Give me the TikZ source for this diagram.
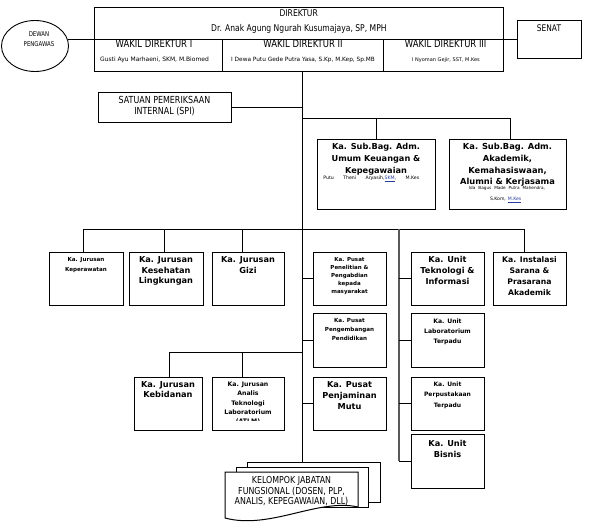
\documentclass[tikz,border=0pt]{standalone}
\usepackage{fontspec}
\setmainfont{DejaVu Sans}
\newfontfamily\tah{DejaVu Sans}[FakeStretch=0.82]
\usetikzlibrary{shapes.geometric,calc}
\definecolor{spell}{RGB}{40,60,160}
\newcommand\fs[2]{\fontsize{#1}{#2}\selectfont}
\newcommand\obox[5]{\node[ob, minimum width={(#4)-(#2)}, minimum height={(#5)-(#3)}] (#1) at ({((#2)+(#4))/2},{((#3)+(#5))/2}) {};}
\begin{document}
\begin{tikzpicture}[x=1pt,y=-1pt,
  ob/.style={draw, line width=1pt, inner sep=0pt, outer sep=0pt, fill=white},
  tx/.style={inner sep=0pt, outer sep=0pt, align=center},
  ln/.style={line width=0.9pt},
  unitln/.style={line width=1.3pt, draw=black!65},
  bigb/.style={tx, anchor=north, font=\bfseries\fs{8.2}{11}},
  ]
\useasboundingbox (0,0) rectangle (614,528);
\fill[white] (0,0) rectangle (614,528);

% ---------- top ----------
\node[draw, ellipse, line width=0.9pt, minimum width=67pt, minimum height=51pt, inner sep=0pt] (dp) at (35,46) {};
\node[tx, anchor=north, font=\tah\fs{6.6}{10}] (dpt) at (39,31.6) {DEWAN\\PENGAWAS};

\obox{dir}{94}{7.3}{503.3}{71}
\coordinate (dv) at (0,39.3);
\coordinate (c1) at (222.7,0);
\coordinate (c2) at (383.3,0);
\draw[ln] (dir.west |- dv) -- (dir.east |- dv);
\draw[ln] (c1 |- dv) -- (c1 |- dir.south);
\draw[ln] (c2 |- dv) -- (c2 |- dir.south);
\node[tx, anchor=base, font=\tah\fs{9.3}{11}] (dirt) at (298.7,16.7) {DIREKTUR};
\node[tx, anchor=base, font=\tah\fs{9.3}{11}] (dirn) at (298.9,31.7) {Dr. Anak Agung Ngurah Kusumajaya, SP, MPH};
\node[tx, anchor=base, font=\tah\fs{10.3}{12}] (w1) at (154,47.8) {WAKIL DIREKTUR I};
\node[tx, anchor=base, font=\tah\fs{10.3}{12}] (w2) at (303,47.8) {WAKIL DIREKTUR II};
\node[tx, anchor=base, font=\tah\fs{10.3}{12}] (w3) at (445.7,47.8) {WAKIL DIREKTUR III};
\node[tx, anchor=base, font=\fs{6}{7}] (w1n) at (154.5,61.2) {Gusti Ayu Marhaeni, SKM, M.Biomed};
\node[tx, anchor=base, font=\fs{5.8}{7}] (w2n) at (303,61.2) {I Dewa Putu Gede Putra Yasa, S.Kp, M.Kep, Sp.MB};
\node[tx, anchor=base, font=\fs{5}{6}] (w3n) at (446,61.2) {I Nyoman Gejir, SST, M.Kes};

\obox{sen}{517}{20.5}{581}{58}
\node[tx, anchor=base, font=\tah\fs{9.1}{11}] (sent) at (549,31.3) {SENAT};

\draw[ln] (dp.12) -- (dp.12 -| dir.west);
\draw[ln] (dir.east |- sen.west) -- (sen.west);

% ---------- SPI and sub bag ----------
\obox{spi}{98}{92}{231}{122}
\node[tx, anchor=north, font=\tah\fs{9.7}{10.7}] (spit) at (164.5,96.4) {SATUAN PEMERIKSAAN\\INTERNAL (SPI)};

\obox{sb1}{317}{139}{435}{209}
\node[tx, anchor=north, font=\bfseries\fs{8.2}{11.65}] (sb1t) at (376,143.6) {Ka. Sub.Bag. Adm.\\Umum Keuangan \&\\Kepegawaian};
\node[tx, anchor=base, font=\fs{4.7}{5}] (sb1n) at (371.3,179.3) {\hbox to 96pt{Putu\hfil Theni\hfil Aryasih,\textcolor{spell}{\underline{SKM}},\hfil M.Kes}};

\obox{sb2}{449}{139}{566}{209}
\node[tx, anchor=north, font=\bfseries\fs{8.3}{11.65}] (sb2t) at (507.5,143.6) {Ka. Sub.Bag. Adm.\\Akademik,\\Kemahasiswaan,\\Alumni \& Kerjasama};
\node[tx, anchor=base, font=\fs{4.2}{5}] (sb2n) at (507,189.9) {\hbox to 76pt{Ida\hfil Bagus\hfil Made\hfil Putra\hfil Mahendra,}};
\node[tx, anchor=base, font=\fs{4.6}{5}] (sb2m) at (505.7,200.6) {S.Kom,\hspace{2pt}\textcolor{spell}{\underline{M.Kes}}};

% ---------- row 1 ----------
\obox{kep}{49}{252}{123}{305}
\node[tx, anchor=north, font=\bfseries\fs{5.6}{10.7}] (kept) at (86,257.2) {Ka. Jurusan\\Keperawatan};
\obox{kes}{129}{252}{203}{305}
\node[bigb, font=\bfseries\fs{8.2}{10.85}] (kest) at (166,256.2) {Ka. Jurusan\\Kesehatan\\Lingkungan};
\obox{gizi}{212}{252}{284}{305}
\node[bigb, font=\bfseries\fs{8.2}{10.85}] (gizit) at (248,256.2) {Ka. Jurusan\\Gizi};
\obox{pen}{313}{252}{386}{305}
\node[tx, anchor=north, font=\bfseries\fs{5.5}{8.1}] (pent) at (349.5,257.2) {Ka. Pusat\\Penelitian \&\\Pengabdian\\kepada\\masyarakat};
\obox{tik}{411}{252}{484}{305}
\node[bigb, font=\bfseries\fs{8.2}{11.2}] (tikt) at (447.5,256.2) {Ka. Unit\\Teknologi \&\\Informasi};
\obox{ins}{493}{252}{566}{305}
\node[tx, anchor=north, font=\bfseries\fs{7.7}{11}] (inst) at (529.5,256.4) {Ka. Instalasi\\Sarana \&\\Prasarana\\Akademik};

% ---------- row 2 ----------
\obox{peng}{313}{313}{386}{367}
\node[tx, anchor=north, font=\bfseries\fs{5.6}{8.6}] (pengt) at (349.5,318.9) {Ka. Pusat\\Pengembangan\\Pendidikan};
\obox{lab}{411}{313}{484}{367}
\node[tx, anchor=north, font=\bfseries\fs{6.1}{10}] (labt) at (447.5,318.7) {Ka. Unit\\Laboratorium\\Terpadu};

% ---------- row 3 ----------
\obox{keb}{134}{377}{202}{430}
\node[bigb, font=\bfseries\fs{8.2}{10.7}] (kebt) at (168,381.2) {Ka. Jurusan\\Kebidanan};
\obox{atlm}{212}{377}{284}{430}
\begin{scope}
\clip (213,378) rectangle (283,420.8);
\node[tx, anchor=north, font=\bfseries\fs{6.2}{9.35}] (atlmt) at (248,381.9) {Ka. Jurusan\\Analis\\Teknologi\\Laboratorium\\(ATLM)};
\end{scope}
\obox{mutu}{313}{377}{386}{430}
\node[bigb, font=\bfseries\fs{8.2}{10.85}] (mutut) at (349.5,381.9) {Ka. Pusat\\Penjaminan\\Mutu};
\obox{perp}{411}{377}{484}{430}
\node[tx, anchor=north, font=\bfseries\fs{6}{10.3}] (perpt) at (447.5,382) {Ka. Unit\\Perpustakaan\\Terpadu};

% ---------- row 4 ----------
\obox{bis}{411}{434}{484}{488}
\node[bigb, font=\bfseries\fs{8.2}{11}] (bist) at (447.5,440.2) {Ka. Unit\\Bisnis};

% ---------- document stack ----------
\obox{docC}{247}{462}{380}{502}
\obox{docB}{236}{467}{368}{507}
\draw[line width=1pt, fill=white] (225,472) -- (358,472) -- (358,507) .. controls (318,498) and (270,530) .. (225,518) -- cycle;
\node[tx, anchor=north, font=\tah\fs{9.6}{10.5}] (doct) at (291.5,476.5) {KELOMPOK JABATAN\\FUNGSIONAL (DOSEN, PLP,\\ANALIS, KEPEGAWAIAN, DLL)};

% ---------- connectors ----------
\coordinate (tr) at (302,0);
\coordinate (ur) at (399,0);
\coordinate (b0) at (0,118);
\coordinate (b1) at (0,229);
\coordinate (b3) at (0,352.7);
\coordinate (v1) at (83,0);
\coordinate (v2) at (164,0);
\coordinate (v3) at (242,0);
\coordinate (v4) at (524,0);
\coordinate (v6) at (510,0);
\coordinate (v7) at (169,0);

\draw[ln] (dir.south -| tr) -- (docC.north -| tr);
\draw[ln] (spi.east) -- (spi.east -| tr);
\draw[ln] (tr |- b0) -- (v6 |- b0) -- (v6 |- sb2.north);
\draw[ln] (sb1.north |- b0) -- (sb1.north);

\draw[ln] (v1 |- b1) -- (v4 |- b1);
\draw[ln] (v1 |- b1) -- (v1 |- kep.north);
\draw[ln] (v2 |- b1) -- (v2 |- kes.north);
\draw[ln] (v3 |- b1) -- (v3 |- gizi.north);
\draw[ln] (v4 |- b1) -- (v4 |- ins.north);

\draw[ln] (tr |- pen.west) -- (pen.west);
\draw[ln] (tr |- peng.west) -- (peng.west);
\draw[ln] (tr |- mutu.west) -- (mutu.west);

\draw[unitln] (ur |- b1) -- (ur |- bis.west);
\draw[ln] (ur |- bis.west) -- (bis.west);
\draw[ln] (ur |- tik.west) -- (tik.west);
\draw[ln] (ur |- lab.west) -- (lab.west);
\draw[ln] (ur |- perp.west) -- (perp.west);

\draw[ln] (tr |- b3) -- (v7 |- b3);
\draw[ln] (v7 |- b3) -- (v7 |- keb.north);
\draw[ln] (v3 |- b3) -- (v3 |- atlm.north);
\end{tikzpicture}
\end{document}
